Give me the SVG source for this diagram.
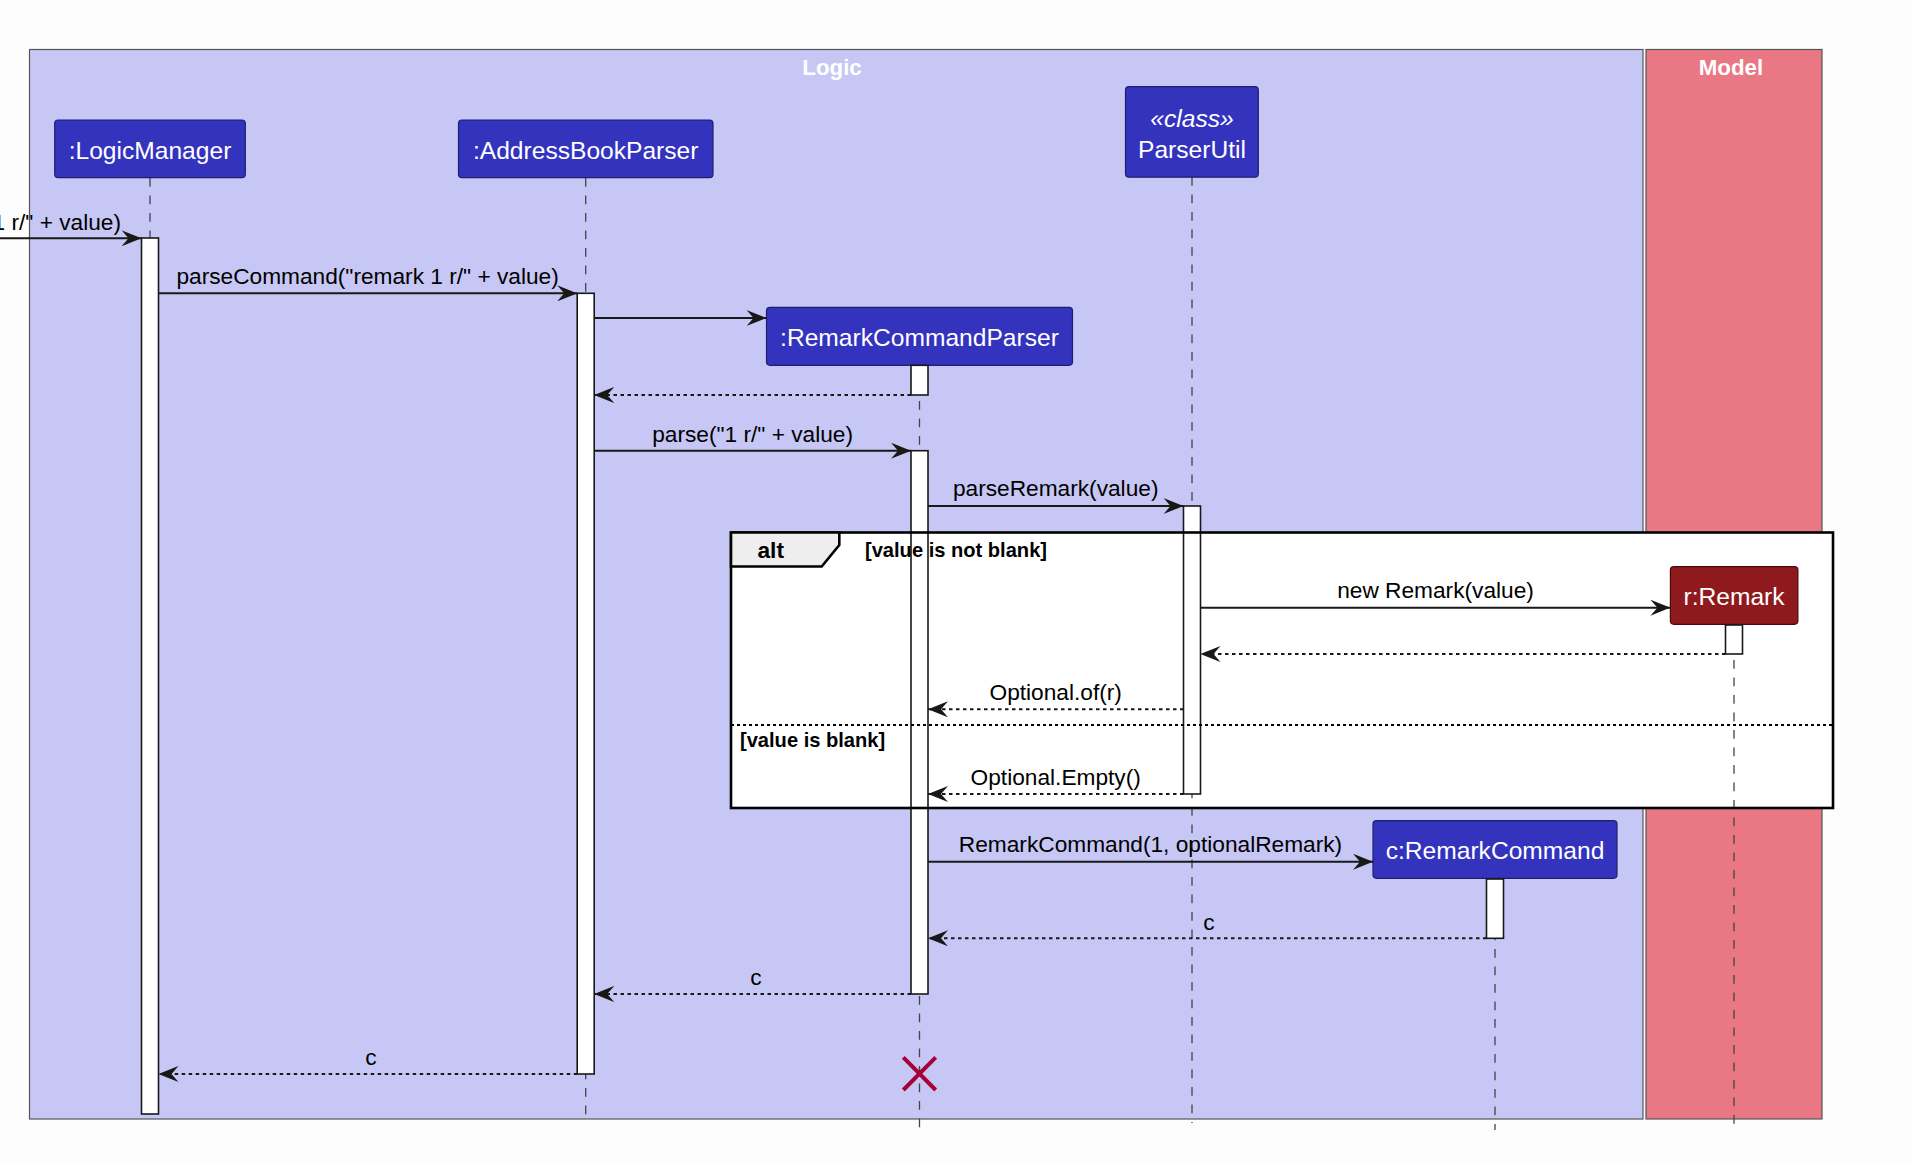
<svg xmlns="http://www.w3.org/2000/svg" width="1912" height="1166" viewBox="0 0 1912 1166">
<style>
  text { font-family: "Liberation Sans", Arial, Helvetica, sans-serif; }
  .frame { stroke: #555555; stroke-width: 1.2; }
  .ftitle { font-size: 22.3px; font-weight: bold; fill: #FFFFFF; text-anchor: middle; }
  .pbox { fill: #3333BE; stroke: #1E1E6E; stroke-width: 1.2; }
  .rbox { fill: #8F1A1E; stroke: #4A0A0C; stroke-width: 1.2; }
  .ptext { font-size: 24.6px; fill: #FFFFFF; text-anchor: middle; }
  .life { stroke: #444444; stroke-width: 1.3; stroke-dasharray: 8.75 8.75; fill: none; }
  .bar { fill: #FFFFFF; stroke: #181818; stroke-width: 1.6; }
  .msg { stroke: #181818; stroke-width: 1.9; fill: none; marker-end: url(#ah); }
  .ret { stroke: #181818; stroke-width: 1.9; fill: none; stroke-dasharray: 3.5 3.5; marker-end: url(#ah); }
  .mtext { font-size: 22.7px; fill: #000000; text-anchor: middle; }
  .guard { font-size: 20.1px; font-weight: bold; fill: #000000; }
</style>
<defs>
  <marker id="ah" markerUnits="userSpaceOnUse" viewBox="0 0 20 16" refX="20" refY="8" markerWidth="20" markerHeight="16" orient="auto">
    <path d="M0,0 L20,8 L0,16 L7,8 Z" fill="#181818"/>
  </marker>
</defs>
<rect x="0" y="0" width="1912" height="1166" fill="#FDFDFD"/>

<g id="box-logic">
  <rect class="frame" x="29.5" y="49.5" width="1613.5" height="1069.5" fill="#C7C7F5"/>
  <text class="ftitle" x="832" y="75">Logic</text>
</g>
<g id="box-model">
  <rect class="frame" x="1646" y="49.5" width="176" height="1069.5" fill="#E97884"/>
  <text class="ftitle" x="1731" y="75">Model</text>
</g>

<g id="alt-fill">
  <rect x="731" y="532.5" width="1102" height="275.5" fill="#FFFFFF"/>
</g>

<g id="lifelines">
  <line class="life" x1="150" y1="178" x2="150" y2="1123"/>
  <line class="life" x1="585.7" y1="178" x2="585.7" y2="1123"/>
  <line class="life" x1="1192" y1="177" x2="1192" y2="1123"/>
  <line class="life" x1="919.5" y1="366" x2="919.5" y2="1130"/>
  <line class="life" x1="1734" y1="625" x2="1734" y2="1125"/>
  <line class="life" x1="1495" y1="879" x2="1495" y2="1130"/>
</g>

<g id="p-logicmanager">
  <rect class="pbox" x="54.7" y="120" width="190.6" height="57.7" rx="3.5"/>
  <text class="ptext" x="150" y="158.5">:LogicManager</text>
</g>
<g id="p-addressbookparser">
  <rect class="pbox" x="458.5" y="120" width="254.5" height="57.7" rx="3.5"/>
  <text class="ptext" x="585.7" y="158.5">:AddressBookParser</text>
</g>
<g id="p-parserutil">
  <rect class="pbox" x="1125.5" y="86.7" width="132.8" height="90.5" rx="3.5"/>
  <text class="ptext" x="1192" y="126.5" font-style="italic">«class»</text>
  <text class="ptext" x="1192" y="158.3">ParserUtil</text>
</g>
<g id="p-remarkcommandparser">
  <rect class="pbox" x="766.5" y="307.3" width="306" height="58" rx="3.5"/>
  <text class="ptext" x="919.5" y="345.5">:RemarkCommandParser</text>
</g>
<g id="p-remark">
  <rect class="rbox" x="1670.4" y="566.7" width="127.5" height="57.6" rx="3.5"/>
  <text class="ptext" x="1734" y="605">r:Remark</text>
</g>
<g id="p-remarkcommand">
  <rect class="pbox" x="1373" y="820.7" width="244" height="57.6" rx="3.5"/>
  <text class="ptext" x="1495" y="859">c:RemarkCommand</text>
</g>

<g id="activations">
  <rect class="bar" x="141.5" y="238" width="17" height="876"/>
  <rect class="bar" x="577.2" y="293.3" width="17" height="780.7"/>
  <rect class="bar" x="911" y="365.3" width="17" height="29.7"/>
  <rect class="bar" x="911" y="450.7" width="17" height="543.3"/>
  <rect class="bar" x="1183.5" y="506" width="17" height="288"/>
  <rect class="bar" x="1725.5" y="625" width="17" height="29"/>
  <rect class="bar" x="1486.5" y="879" width="17" height="59.3"/>
</g>

<g id="alt-frame">
  <rect x="731" y="532.5" width="1102" height="275.5" fill="none" stroke="#000000" stroke-width="2.6"/>
  <path d="M731,532.5 L839.3,532.5 L839.3,545 L821.7,566.5 L731,566.5 Z" fill="#EEEEEE" stroke="#000000" stroke-width="2.6"/>
  <text x="757.5" y="558.3" font-size="22.7px" font-weight="bold" fill="#000000">alt</text>
  <text class="guard" x="865" y="557">[value is not blank]</text>
  <line x1="731" y1="725" x2="1833" y2="725" stroke="#000000" stroke-width="1.8" stroke-dasharray="3 3"/>
  <text class="guard" x="740" y="747">[value is blank]</text>
</g>

<g id="connectors">
  <line class="msg" x1="0" y1="238.3" x2="141.5" y2="238.3"/>
  <text class="mtext" x="121" y="230" style="text-anchor:end">1 r/" + value)</text>

  <line class="msg" x1="158.5" y1="293.3" x2="577.2" y2="293.3"/>
  <text class="mtext" x="367.6" y="283.7">parseCommand("remark 1 r/" + value)</text>

  <line class="msg" x1="594.2" y1="318" x2="766.5" y2="318"/>

  <line class="ret" x1="911" y1="395" x2="594.2" y2="395"/>

  <line class="msg" x1="594.2" y1="450.7" x2="911" y2="450.7"/>
  <text class="mtext" x="752.6" y="441.5">parse("1 r/" + value)</text>

  <line class="msg" x1="928" y1="506" x2="1183.5" y2="506"/>
  <text class="mtext" x="1055.7" y="496">parseRemark(value)</text>

  <line class="msg" x1="1200.5" y1="607.7" x2="1670.4" y2="607.7"/>
  <text class="mtext" x="1435.5" y="598">new Remark(value)</text>

  <line class="ret" x1="1725.5" y1="654" x2="1200.5" y2="654"/>

  <line class="ret" x1="1183.5" y1="709.3" x2="928" y2="709.3"/>
  <text class="mtext" x="1055.7" y="700">Optional.of(r)</text>

  <line class="ret" x1="1183.5" y1="794" x2="928" y2="794"/>
  <text class="mtext" x="1055.7" y="784.5">Optional.Empty()</text>

  <line class="msg" x1="928" y1="861.7" x2="1373" y2="861.7"/>
  <text class="mtext" x="1150.5" y="852">RemarkCommand(1, optionalRemark)</text>

  <line class="ret" x1="1486.5" y1="938.3" x2="928" y2="938.3"/>
  <text class="mtext" x="1209" y="929.5">c</text>

  <line class="ret" x1="911" y1="994" x2="594.2" y2="994"/>
  <text class="mtext" x="756" y="984.5">c</text>

  <line class="ret" x1="577.2" y1="1074" x2="158.5" y2="1074"/>
  <text class="mtext" x="371" y="1064.5">c</text>

  <g id="destroy" stroke="#A80036" stroke-width="4">
    <line x1="903.3" y1="1057.3" x2="935.7" y2="1090"/>
    <line x1="935.7" y1="1057.3" x2="903.3" y2="1090"/>
  </g>
</g>
</svg>
